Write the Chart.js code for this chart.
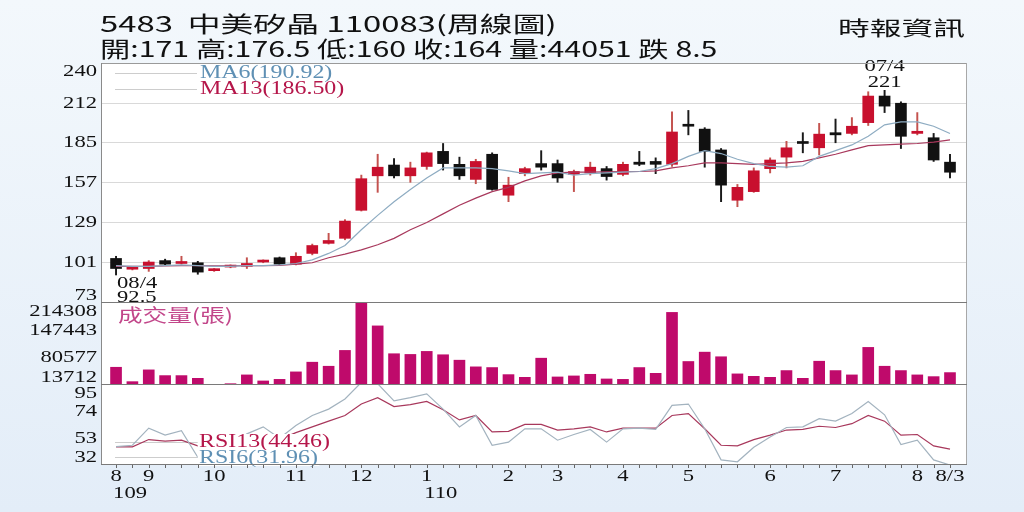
<!DOCTYPE html>
<html>
<head>
<meta charset="utf-8">
<script src="https://cdn.jsdelivr.net/npm/chart.js@4.4.1/dist/chart.umd.min.js"></script>
<style>
  body { margin: 0; }
  #wrap { position: relative; width: 1024px; height: 512px; overflow: hidden;
          background: linear-gradient(#f3f8fc, #e3edf8); }
  canvas { position: absolute; left: 0; }
  .hd { position: absolute; white-space: pre; line-height: 1; color: #111;
        font-family: "Noto Sans CJK TC", sans-serif; transform-origin: 0 0; }
</style>
</head>
<body>
<div id="wrap">
  <canvas id="cPrice" width="1024" height="303" style="top:0;width:1024px;height:303px"></canvas>
  <canvas id="cVol" width="1024" height="82" style="top:303px;width:1024px;height:82px"></canvas>
  <canvas id="cRsi" width="1024" height="127" style="top:385px;width:1024px;height:127px"></canvas>
  <div class="hd" id="t1" style="left:100px;top:11px;font-size:22px"></div>
  <div class="hd" id="t2" style="left:100px;top:36px;font-size:22px"></div>
  <div class="hd" id="t3" style="left:838px;top:18px;font-size:20px">時報資訊</div>
</div>
<script>
// weekly candles, 109/8 .. 110/8/3
const opens  = [104, 96.5, 97, 102.5, 100.5, 101, 95.5, 98, 98.5, 101.5, 104.5, 100, 107.5, 114.5, 118, 137.5, 161.5, 169, 161.5, 168, 178.5, 169.5, 159, 176.5, 148, 163, 170, 170, 162.5, 163.5, 166.5, 162.5, 171, 171.5, 169.5, 197, 194, 179.5, 144.5, 150.5, 166.5, 174.5, 184.5, 181, 191.5, 191, 198.5, 217, 212, 191, 188, 171];
const highs  = [105.5, 98, 102.5, 103.5, 105.5, 102, 97, 99.5, 104.5, 103, 105, 108, 114, 121.5, 131, 162, 176.5, 173.5, 171, 178, 184, 174.5, 173, 177.5, 160.5, 167.5, 179, 172.5, 165.5, 171, 168, 171, 178.5, 174, 206, 207, 195, 180.5, 155.5, 167, 174, 185.5, 191.5, 198, 201, 202, 220, 221, 213, 205.5, 191, 176.5];
const lows   = [92.5, 96, 95, 99.5, 100, 93, 95, 97.5, 97, 101, 99.5, 99.5, 106.5, 114, 117, 137, 150, 160, 157, 166, 165.5, 159, 156, 151.5, 143.5, 161.5, 165.5, 157, 150.5, 162, 158.5, 161.5, 168.5, 163, 168, 190, 167.5, 143.5, 140, 150, 163.5, 167, 177.5, 176, 184.5, 190, 196.5, 205.5, 180.5, 190, 171.5, 160];
const closes = [97, 97.5, 101.5, 100, 101.5, 94.5, 96.5, 99, 100.5, 102.5, 100, 105.5, 113, 116.5, 130, 159.5, 167.5, 161.5, 167, 177.5, 170, 161.5, 171.5, 152, 155, 166.5, 167.5, 160, 164.5, 167.5, 161, 169.5, 169.5, 169.5, 192, 196, 178.5, 155, 153.5, 165, 172.5, 181, 184, 190.5, 190, 196, 217, 210, 189, 192.5, 172.5, 164];
const volumes = [57100, 21900, 50700, 36700, 36700, 30000, 13712, 16900, 38400, 23600, 27500, 45800, 69500, 59600, 98300, 214308, 158300, 90200, 88500, 95900, 87700, 74400, 58100, 56400, 39100, 32500, 79300, 33400, 35900, 39900, 28500, 27500, 56400, 42300, 191300, 71200, 94100, 82800, 40900, 34900, 32500, 49000, 30000, 71900, 49000, 38400, 105700, 59600, 49000, 38400, 34200, 44051];
const ma6  = [99, 98.5, 98.5, 99, 99.5, 99, 98.5, 98.5, 99, 99, 99.5, 100.5, 103, 107.5, 113, 124, 134, 143.5, 152, 160, 167, 167, 167, 166.5, 165, 163, 163.5, 164, 162, 163, 163.5, 164, 164.5, 166.5, 170, 175, 179, 177, 173, 170, 168, 167.5, 168.5, 175, 179, 183, 189, 197, 199, 199, 196, 190.92];
const ma13 = [98.5, 98.5, 98.5, 98.8, 99, 99, 98.8, 98.8, 99, 99, 99.2, 100, 101, 104.5, 107, 110, 113.5, 118, 124, 129, 135, 141, 146, 150.5, 153.5, 158, 161.5, 163.5, 164, 164, 164.2, 164.4, 164.5, 165, 167, 168.5, 170.5, 170.5, 170, 169.5, 170, 170.5, 171.5, 174, 176.5, 179.5, 182.5, 183, 183.5, 184, 185, 186.5];
const rsi6  = [46.5, 47.5, 61, 55.5, 59, 38, 33, 45, 56.5, 62, 53, 63, 71, 76, 84, 97, 96, 82.5, 85, 88, 76, 62, 71, 47.5, 50, 60.5, 60.5, 51.5, 56, 60, 50, 60.5, 61, 60, 79, 80, 60.5, 36, 34.5, 46, 54, 61.5, 62, 68.5, 66.5, 72.5, 82, 71.5, 48, 51.5, 36, 31.96];
const rsi13 = [46.3, 46.3, 52, 50.7, 51.5, 47, 43, 45, 50, 53, 52, 57.5, 62, 66.5, 71, 80, 85, 78, 79.5, 82, 75.5, 67.5, 71, 58, 58.5, 64, 64, 59.5, 60.5, 62, 58, 61, 61, 61, 71, 72.5, 60.5, 47.5, 47, 52, 55.5, 59.5, 60, 62.5, 61.5, 64.5, 71, 66.5, 55.5, 56, 47, 44.46];

const priceTicks = [73, 101, 129, 157, 185, 212, 240];
const volTicks = [13712, 80577, 147443, 214308];
const rsiTicks = [32, 53, 74, 95];
const monthTickIdx = [0, 2, 6, 11, 15, 19, 24, 27, 31, 35, 40, 44, 49, 51];
const monthTickLbl = ['8', '9', '10', '11', '12', '1', '2', '3', '4', '5', '6', '7', '8', '8/3'];
const yearTickIdx = [0, 19];
const yearTickLbl = ['109', '110'];
const markIdx = [0, 47];          // lowest low / highest high
const markDate = ['08/4', '07/4'];

const last = closes.length - 1;
document.getElementById('t1').textContent = '5483  中美矽晶 110083(周線圖)';
document.getElementById('t2').textContent =
  '開:' + opens[last] + ' 高:' + highs[last] + ' 低:' + lows[last] + ' 收:' + closes[last] +
  ' 量:' + volumes[last] + ' 跌 ' + (closes[last - 1] - closes[last]);

// the source picture is stretched sideways, so text gets stretched too
function fit(id, w) {
  const el = document.getElementById(id);
  el.style.transform = 'scaleX(' + (w / el.offsetWidth) + ')';
}
fit('t1', 457); fit('t2', 618); fit('t3', 127);

const SERIF = '"Liberation Serif", "DejaVu Serif", serif';
const CJK = '"Noto Sans CJK TC", sans-serif';
const SX = 1.33;
const RED = '#c8102e', BLACK = '#111111';
const C_MA6 = '#8eacc2', C_MA13 = '#a8385c';
const T_BLUE = '#5f90b4', T_RED = '#b5164a';

function txt(ctx, s, x, y, align, font, color, bg) {
  ctx.save();
  ctx.font = font;
  ctx.textBaseline = 'middle';
  ctx.translate(x, y);
  ctx.scale(SX, 1);
  ctx.textAlign = align;
  if (bg) {
    const w = ctx.measureText(s).width;
    const x0 = align === 'left' ? 0 : align === 'right' ? -w : -w / 2;
    ctx.fillStyle = bg;
    ctx.fillRect(x0 - 1, -8, w + 2, 16);
  }
  ctx.fillStyle = color;
  ctx.fillText(s, 0, 0);
  ctx.restore();
}

function hline(ctx, x1, x2, y, color) {
  ctx.save(); ctx.strokeStyle = color; ctx.lineWidth = 1;
  ctx.beginPath(); ctx.moveTo(x1, y); ctx.lineTo(x2, y); ctx.stroke(); ctx.restore();
}
function vline(ctx, x, y1, y2, color) {
  ctx.save(); ctx.strokeStyle = color; ctx.lineWidth = 1;
  ctx.beginPath(); ctx.moveTo(x, y1); ctx.lineTo(x, y2); ctx.stroke(); ctx.restore();
}

function yLabels(chart, ticks) {
  const {ctx, chartArea: a, scales: {y}} = chart;
  ticks.forEach(v => {
    const py = Math.min(Math.max(y.getPixelForValue(v), a.top + 8.5), a.bottom - 7.5);
    txt(ctx, String(v), a.left - 4, py, 'right', '17px ' + SERIF, '#111');
  });
}

function panel(top, after, beforeData) {
  return {
    id: 'panel',
    beforeDraw(chart) {
      const {ctx, chartArea: a} = chart;
      ctx.save(); ctx.fillStyle = '#ffffff';
      ctx.fillRect(a.left, a.top, a.right - a.left, a.bottom - a.top); ctx.restore();
    },
    beforeDatasetsDraw(chart) { if (beforeData) beforeData(chart); },
    afterDraw(chart) {
      const {ctx, chartArea: a} = chart;
      if (after) after(chart);
      if (top) hline(ctx, a.left, a.right, a.top + 0.5, '#9a9a9a');
      vline(ctx, a.left + 0.5, a.top, a.bottom, '#8a8a8a');
      vline(ctx, a.right - 0.5, a.top, a.bottom, '#a8a8a8');
      hline(ctx, a.left, a.right, a.bottom - 0.5, '#7a7a7a');
    }
  };
}

const xAxis = () => ({type: 'linear', min: -0.92, max: 52.04, offset: false, display: false});
const common = (padTop, padBottom) => ({
  responsive: false, animation: false, events: [],
  layout: {padding: {left: 101, right: 57, top: padTop, bottom: padBottom}},
  plugins: {legend: {display: false}, tooltip: {enabled: false}}
});
const pt = arr => arr.map((v, i) => ({x: i, y: v}));

// PRICE - candles + MA6 / MA13
const up = closes.map((c, i) => c >= opens[i]);
new Chart(document.getElementById('cPrice'), {
  type: 'bar',
  data: {
    datasets: [
      {type: 'line', data: pt(ma6), borderColor: C_MA6, borderWidth: 1.2, pointRadius: 0, order: 0},
      {type: 'line', data: pt(ma13), borderColor: C_MA13, borderWidth: 1.2, pointRadius: 0, order: 0},
      {data: lows.map((v, i) => ({x: i, y: [v, highs[i]]})),
       backgroundColor: up.map(u => u ? '#c4524e' : '#1a1a1a'),
       barThickness: 1.3, grouped: false, order: 2},
      {data: opens.map((v, i) => ({x: i, y: [v, closes[i]]})),
       backgroundColor: up.map(u => u ? RED : BLACK),
       barThickness: 11, minBarLength: 2, grouped: false, order: 1}
    ]
  },
  options: Object.assign(common(63, 0), {
    scales: {
      x: xAxis(),
      y: {min: 73, max: 240,
          afterBuildTicks: s => { s.ticks = priceTicks.map(v => ({value: v})); },
          afterFit: s => { s.width = 0; },
          ticks: {display: false}, border: {display: false},
          grid: {color: '#d9d9d9', drawTicks: false}}
    }
  }),
  plugins: [panel(true, chart => {
    const {ctx, scales: {x, y}} = chart;
    yLabels(chart, priceTicks);
    hline(ctx, 115, 197, 73.5, '#cdcdcd');
    hline(ctx, 115, 197, 89.5, '#cdcdcd');
    txt(ctx, 'MA6(' + ma6[last].toFixed(2) + ')', 200, 73, 'left', '18px ' + SERIF, T_BLUE);
    txt(ctx, 'MA13(' + ma13[last].toFixed(2) + ')', 200, 89, 'left', '18px ' + SERIF, T_RED);
    // low mark
    const lx = x.getPixelForValue(markIdx[0]), ly = y.getPixelForValue(lows[markIdx[0]]);
    txt(ctx, markDate[0], lx + 1, ly + 9, 'left', '17px ' + SERIF, '#111');
    txt(ctx, String(lows[markIdx[0]]), lx + 1, ly + 23, 'left', '17px ' + SERIF, '#111');
    // high mark
    const hx = x.getPixelForValue(markIdx[1]), hy = y.getPixelForValue(highs[markIdx[1]]);
    txt(ctx, markDate[1], hx, hy - 24, 'center', '17px ' + SERIF, '#111');
    txt(ctx, String(highs[markIdx[1]]), hx, hy - 8, 'center', '17px ' + SERIF, '#111');
  })]
});

// VOLUME
new Chart(document.getElementById('cVol'), {
  type: 'bar',
  data: {
    datasets: [{data: pt(volumes), backgroundColor: '#bf0a6b', barThickness: 11,
                base: Math.min(...volumes)}]
  },
  options: Object.assign(common(0, 0), {
    scales: {
      x: xAxis(),
      y: {min: Math.min(...volumes), max: Math.max(...volumes), display: false}
    }
  }),
  plugins: [panel(false, chart => {
    yLabels(chart, volTicks);
    txt(chart.ctx, '成交量(張)', 118, 11.5, 'left', '18.5px ' + CJK, '#c2468a');
  })]
});

// RSI
new Chart(document.getElementById('cRsi'), {
  type: 'line',
  data: {
    datasets: [
      {data: pt(rsi6), borderColor: '#a3b3bf', borderWidth: 1.2, pointRadius: 0},
      {data: pt(rsi13), borderColor: C_MA13, borderWidth: 1.2, pointRadius: 0}
    ]
  },
  options: Object.assign(common(0, 47), {
    scales: {
      x: xAxis(),
      y: {min: Math.min(...rsi6), max: rsiTicks[rsiTicks.length - 1], display: false}
    }
  }),
  plugins: [{
    id: 'rsiLegend',
    afterDatasetsDraw(chart) {
      const ctx = chart.ctx;
      txt(ctx, 'RSI13(' + rsi13[last].toFixed(2) + ')', 199, 57, 'left', '18px ' + SERIF, T_RED, '#ffffff');
      txt(ctx, 'RSI6(' + rsi6[last].toFixed(2) + ')', 199, 73, 'left', '18px ' + SERIF, T_BLUE, '#ffffff');
    }
  }, panel(false, chart => {
    const {ctx, chartArea: a, scales: {x}} = chart;
    yLabels(chart, rsiTicks);
    for (let i = 0; i < closes.length; i++) {
      vline(ctx, Math.round(x.getPixelForValue(i)) + 0.5, a.bottom, a.bottom + 3, '#666');
    }
    monthTickIdx.forEach((k, j) => {
      txt(ctx, monthTickLbl[j], x.getPixelForValue(k), a.bottom + 12, 'center', '17px ' + SERIF, '#111');
    });
    yearTickIdx.forEach((k, j) => {
      txt(ctx, yearTickLbl[j], x.getPixelForValue(k) + 14, a.bottom + 28.5, 'center', '17px ' + SERIF, '#111');
    });
  }, chart => {
    hline(chart.ctx, 115, 200, 57.5, '#cdcdcd');
    hline(chart.ctx, 115, 200, 72.5, '#cdcdcd');
  })]
});
</script>
</body>
</html>
